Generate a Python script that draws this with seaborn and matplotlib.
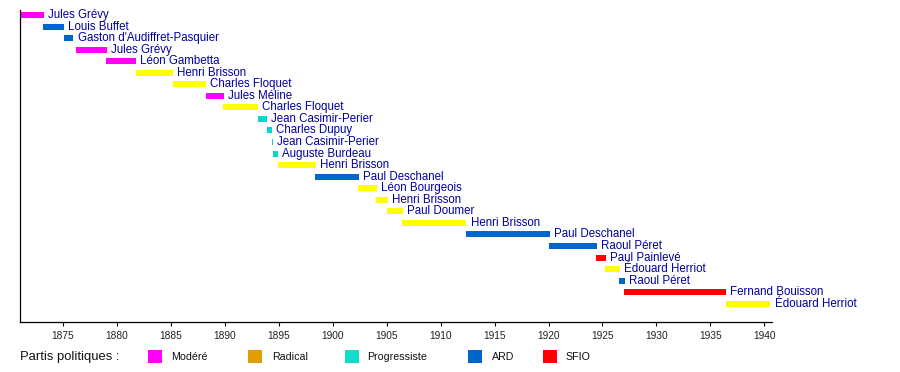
import matplotlib
matplotlib.use("Agg")
import matplotlib.pyplot as plt
from matplotlib.patches import Rectangle
import seaborn as sns
import pandas as pd

names = ["Jules Grévy", "Louis Buffet", "Gaston d'Audiffret-Pasquier", "Jules Grévy",
         "Léon Gambetta", "Henri Brisson", "Charles Floquet", "Jules Méline",
         "Charles Floquet", "Jean Casimir-Perier", "Charles Dupuy", "Jean Casimir-Perier",
         "Auguste Burdeau", "Henri Brisson", "Paul Deschanel", "Léon Bourgeois",
         "Henri Brisson", "Paul Doumer", "Henri Brisson", "Paul Deschanel",
         "Raoul Péret", "Paul Painlevé", "Édouard Herriot", "Raoul Péret",
         "Fernand Bouisson", "Édouard Herriot"]
starts = [1871.1, 1873.2, 1875.15, 1876.2, 1879.0, 1881.8, 1885.25, 1888.3,
          1889.85, 1893.1, 1893.95, 1894.4, 1894.5, 1894.95, 1898.4, 1902.4,
          1904.0, 1905.05, 1906.45, 1912.36, 1920.06, 1924.4, 1925.25, 1926.55,
          1927.0, 1936.4]
ends = [1873.3, 1875.1, 1876.0, 1879.1, 1881.8, 1885.25, 1888.3, 1889.9,
        1893.1, 1893.95, 1894.4, 1894.5, 1894.95, 1898.45, 1902.45, 1904.1,
        1905.15, 1906.55, 1912.4, 1920.15, 1924.5, 1925.35, 1926.65, 1927.1,
        1936.45, 1940.55]
bar_groups = ["Modéré", "ARD", "ARD", "Modéré", "Modéré", "Radical", "Radical", "Modéré",
              "Radical", "Progressiste", "Progressiste", "Progressiste", "Progressiste",
              "Radical", "ARD", "Radical", "Radical", "Radical", "Radical", "ARD",
              "ARD", "SFIO", "Radical", "ARD", "SFIO", "Radical"]

party_names = ["Modéré", "Radical", "Progressiste", "ARD", "SFIO"]
bar_colors = {"Modéré": "#ff00ff", "Radical": "#ffff00", "Progressiste": "#00d8d0",
              "ARD": "#0066cc", "SFIO": "#ff0000"}
legend_colors = {"Modéré": "#ff00ff", "Radical": "#e09c00", "Progressiste": "#10dcc8",
                 "ARD": "#0066cc", "SFIO": "#ff0000"}
year_ticks = list(range(1875, 1941, 5))

sns.set_theme(style="ticks")
plt.rcParams['font.family'] = ['Liberation Sans', 'DejaVu Sans']

df = pd.DataFrame({
    "row": [str(i) for i in range(len(names))],
    "start": starts,
    "dur": [e - s for s, e in zip(starts, ends)],
    "party": bar_groups,
    "name": names,
})

fig = plt.figure(figsize=(9, 3.72), dpi=100)
ax = fig.add_axes([20 / 900, 1 - 322 / 372, (772 - 20) / 900, (322 - 10) / 372])

sns.barplot(data=df, x="dur", y="row", orient="h", left=df["start"].values,
            width=0.52, color="#ff00ff", linewidth=0, ax=ax, errorbar=None,
            order=df["row"].tolist())
for patch, party in zip(ax.patches, df["party"]):
    patch.set_facecolor(bar_colors[party])
    patch.set_edgecolor("none")

for i, (e, n) in enumerate(zip(ends, names)):
    ax.annotate(n, xy=(e, i), xytext=(3, 0), textcoords="offset points",
                va="center", ha="left", fontsize=8.3, color="#0000a0")

ax.set_xlim(1871.05, 1940.7)
ax.set_ylim(26.58, -0.43)
ax.set_yticks([])
ax.set_ylabel("")
ax.set_xlabel("")
ax.set_xticks(year_ticks)
ax.set_xticklabels([str(y) for y in year_ticks], fontsize=7.3, color="#222222")
ax.tick_params(axis="x", direction="out", length=3, width=0.8, pad=3.5, color="black")
sns.despine(ax=ax, top=True, right=True)
for s in ["left", "bottom"]:
    ax.spines[s].set_color("black")
    ax.spines[s].set_linewidth(0.9)

# legend
ly = 1 - 357 / 372
fig.text(20 / 900, ly, "Partis politiques :", fontsize=9.4, va="center", ha="left",
         color="#111111")
swatch_x = [148, 248, 345, 468, 543]
label_x = [171, 272, 367, 492, 565]
for p, sx, tx in zip(party_names, swatch_x, label_x):
    fig.patches.append(Rectangle((sx / 900, 1 - 363 / 372), 14 / 900, 13 / 372,
                                 transform=fig.transFigure, facecolor=legend_colors[p],
                                 edgecolor="none"))
    fig.text(tx / 900, ly, p, fontsize=7.7, va="center", ha="left", color="#111111")

fig.savefig("out.png", dpi=100)
